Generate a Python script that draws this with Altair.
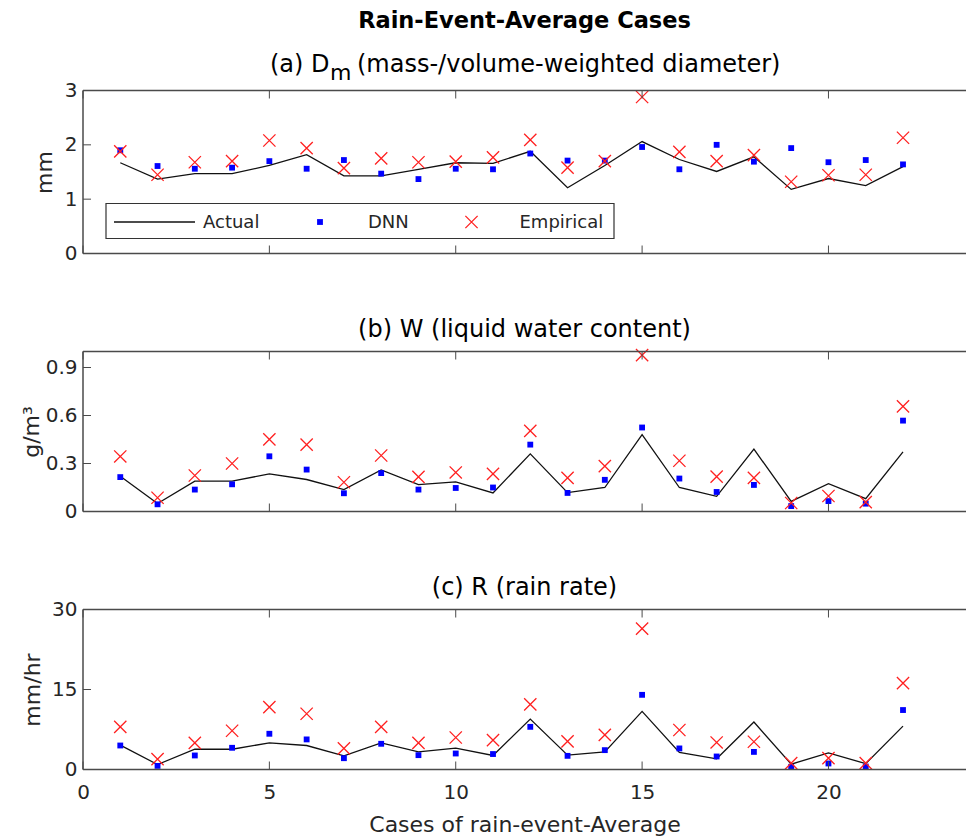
import altair as alt
import pandas as pd

# ---- data -------------------------------------------------------------
cases = list(range(1, 23))

dm_actual = [1.67, 1.37, 1.47, 1.47, 1.62, 1.82, 1.43, 1.43, 1.55, 1.67, 1.66,
             1.88, 1.21, 1.62, 2.06, 1.73, 1.51, 1.78, 1.18, 1.38, 1.25, 1.60]
dm_dnn = [1.90, 1.61, 1.56, 1.58, 1.70, 1.56, 1.72, 1.47, 1.37, 1.56, 1.55,
          1.84, 1.71, 1.71, 1.96, 1.55, 2.00, 1.69, 1.94, 1.68, 1.72, 1.64]
dm_emp = [1.88, 1.45, 1.68, 1.70, 2.08, 1.94, 1.57, 1.75, 1.68, 1.69, 1.77,
          2.09, 1.58, 1.70, 2.88, 1.87, 1.70, 1.81, 1.32, 1.44, 1.45, 2.13]

w_actual = [0.22, 0.05, 0.19, 0.19, 0.235, 0.20, 0.137, 0.26, 0.168, 0.185, 0.116,
            0.36, 0.118, 0.15, 0.48, 0.15, 0.095, 0.39, 0.063, 0.174, 0.08, 0.373]
w_dnn = [0.215, 0.045, 0.137, 0.17, 0.345, 0.262, 0.114, 0.24, 0.137, 0.147, 0.15,
         0.418, 0.116, 0.198, 0.525, 0.206, 0.122, 0.166, 0.034, 0.065, 0.049, 0.568]
w_emp = [0.344, 0.086, 0.225, 0.30, 0.451, 0.418, 0.183, 0.35, 0.216, 0.244, 0.235,
         0.504, 0.21, 0.284, 0.977, 0.317, 0.218, 0.21, 0.053, 0.097, 0.059, 0.657]

r_actual = [4.57, 0.94, 3.82, 3.8, 5.0, 4.5, 2.56, 5.0, 3.3, 4.0, 2.63,
            9.45, 2.69, 3.3, 10.9, 3.2, 2.0, 8.9, 1.0, 3.1, 1.1, 8.14]
r_dnn = [4.5, 0.68, 2.63, 4.07, 6.7, 5.64, 2.12, 4.82, 2.69, 3.0, 2.9,
         8.0, 2.56, 3.63, 14.0, 3.95, 2.44, 3.3, 0.5, 1.13, 0.56, 11.15]
r_emp = [8.0, 1.94, 5.0, 7.26, 11.7, 10.45, 3.95, 8.0, 5.0, 6.0, 5.5,
         12.2, 5.26, 6.5, 26.4, 7.4, 5.07, 5.2, 1.2, 2.12, 1.2, 16.2]

x_ticks = [0, 5, 10, 15, 20]
dm_ticks = [0, 1, 2, 3]
w_ticks = [0, 0.3, 0.6, 0.9]
r_ticks = [0, 15, 30]

series_names = ["Actual", "DNN", "Empirical"]
# panel (a) heading, split so the "m" of D_m can sit as a subscript
heading_a = ["(a) D", "m", "(mass-/volume-weighted diameter)"]

# ---- style ------------------------------------------------------------
FONT = "DejaVu Sans"
TXT = "#262626"
BOX = "#4a4a4a"
W = 883
X_MAX = 23.69
XSHAPE = "M-1,-1L1,1M-1,1L1,-1"


def panel(actual, dnn, emp, ydom, yticks, ytitle, title_x, height, title,
          show_x=False, legend=False):
    df = pd.DataFrame({"case": cases, "Actual": actual, "DNN": dnn, "Empirical": emp})
    xs = alt.Scale(domain=[0, X_MAX], nice=False, zero=False)
    ys = alt.Scale(domain=ydom, nice=False, zero=False)

    if show_x:
        xaxis = alt.Axis(values=x_ticks, ticks=False, domain=False, grid=False,
                         labelFlush=False, labelFontSize=20, labelColor=TXT,
                         labelPadding=13, labelFont=FONT,
                         title="Cases of rain-event-Average", titleFontSize=22,
                         titleFontWeight="normal", titleColor=TXT, titleFont=FONT,
                         titleBaseline="alphabetic", titleY=62)
    else:
        xaxis = None
    yaxis = alt.Axis(values=yticks, ticks=False, domain=False, grid=False,
                     format="~f", labelFontSize=20, labelColor=TXT, labelPadding=6,
                     labelFont=FONT, title=ytitle, titleFontSize=22,
                     titleFontWeight="normal", titleColor=TXT, titleFont=FONT,
                     titleBaseline="alphabetic", titleX=title_x)

    X = lambda f: alt.X(f, type="quantitative", scale=xs, axis=xaxis)
    Y = lambda f: alt.Y(f, type="quantitative", scale=ys, axis=yaxis)

    base = alt.Chart(df)
    line = base.mark_line(color="#111111", strokeWidth=1.3).encode(
        x=X("case"), y=Y("Actual"))
    dnn_pts = base.mark_square(color="#0000ff", size=34, opacity=1).encode(
        x=X("case"), y=Y("DNN"))
    emp_pts = base.mark_point(shape=XSHAPE, size=150, color="#ff2020",
                              strokeWidth=1.3, filled=False, opacity=1).encode(
        x=X("case"), y=Y("Empirical"))

    # inward tick marks on the bottom, top and left edges
    xt = alt.Chart(pd.DataFrame({"t": x_ticks}))
    xt_bottom = xt.mark_rule(color=BOX, strokeWidth=1).encode(
        x=X("t"), y=alt.value(height), y2=alt.value(height - 8))
    xt_top = xt.mark_rule(color=BOX, strokeWidth=1).encode(
        x=X("t"), y=alt.value(0), y2=alt.value(8))
    yt = alt.Chart(pd.DataFrame({"t": yticks})).mark_rule(color=BOX, strokeWidth=1).encode(
        y=Y("t"), x=alt.value(0), x2=alt.value(8))

    # axes box (left, top, bottom)
    one = alt.Chart(pd.DataFrame({"k": [0]}))
    frame_top = one.mark_rule(color=BOX, strokeWidth=1.5).encode(
        x=alt.value(0), x2=alt.value(W), y=alt.value(0))
    frame_bot = one.mark_rule(color=BOX, strokeWidth=1.5).encode(
        x=alt.value(0), x2=alt.value(W), y=alt.value(height))
    frame_left = one.mark_rule(color=BOX, strokeWidth=1.5).encode(
        x=alt.value(0), y=alt.value(0), y2=alt.value(height))

    layers = [line, dnn_pts, emp_pts, xt_bottom, xt_top, yt,
              frame_top, frame_bot, frame_left]

    if legend:
        box = one.mark_rect(fill="white", stroke="#333333", strokeWidth=1.2).encode(
            x=alt.value(23), x2=alt.value(531), y=alt.value(113), y2=alt.value(148))
        leg_line = one.mark_rule(color="#111111", strokeWidth=1.3).encode(
            x=alt.value(31), x2=alt.value(112), y=alt.value(131.5))
        leg_sq = one.mark_square(color="#0000ff", size=34, opacity=1).encode(
            x=alt.value(237), y=alt.value(131.5))
        leg_x = one.mark_point(shape=XSHAPE, size=150, color="#ff2020",
                               strokeWidth=1.3, filled=False, opacity=1).encode(
            x=alt.value(388.5), y=alt.value(131.5))
        leg_txt = alt.Chart(pd.DataFrame({"name": series_names, "px": [120, 285, 436.5]})
                            ).mark_text(align="left", baseline="middle", fontSize=18,
                                        font=FONT, color=TXT).encode(
            x=alt.X("px:Q", scale=None), y=alt.value(132), text="name:N")
        layers += [box, leg_line, leg_sq, leg_x, leg_txt]

    return alt.layer(*layers).properties(width=W, height=height, title=title)


pa = panel(dm_actual, dm_dnn, dm_emp, [0, 3], dm_ticks, "mm", -31.5, 163,
           alt.TitleParams(text="Rain-Event-Average Cases",
                           fontSize=22.5, fontWeight="bold", color="#000000",
                           font=FONT, anchor="middle", frame="group", offset=20.5),
           legend=True)

# heading of panel (a) with a lowered "m"
head = alt.Chart(pd.DataFrame({"k": [0]}))
head_1 = head.mark_text(text=heading_a[0], align="left", baseline="alphabetic",
                        fontSize=24, font=FONT, color="#000000").encode(
    x=alt.value(187), y=alt.value(-18.5))
head_2 = head.mark_text(text=heading_a[1], align="left", baseline="alphabetic",
                        fontSize=22, font=FONT, color="#000000").encode(
    x=alt.value(247), y=alt.value(-11))
head_3 = head.mark_text(text=heading_a[2], align="left", baseline="alphabetic",
                        fontSize=24, font=FONT, color="#000000").encode(
    x=alt.value(274), y=alt.value(-18.5))
pa = alt.layer(pa, head_1, head_2, head_3)

pb = panel(w_actual, w_dnn, w_emp, [0, 1.0], w_ticks, "g/m\u00b3", -44.5, 160,
           alt.TitleParams(text="(b) W (liquid water content)", fontSize=24,
                           fontWeight="normal", color="#000000", font=FONT,
                           anchor="middle", frame="group", offset=4.5))
pc = panel(r_actual, r_dnn, r_emp, [0, 30], r_ticks, "mm/hr", -43.5, 160,
           alt.TitleParams(text="(c) R (rain rate)", fontSize=24,
                           fontWeight="normal", color="#000000", font=FONT,
                           anchor="middle", frame="group", offset=0),
           show_x=True)

chart = alt.vconcat(pa, pb, pc, spacing=54).configure(
    font=FONT, padding={"left": 20, "top": 9.5, "right": 0, "bottom": 0},
    background="white"
).configure_view(strokeWidth=0)

chart.save("out.html", embed_options={"renderer": "svg", "actions": False})
